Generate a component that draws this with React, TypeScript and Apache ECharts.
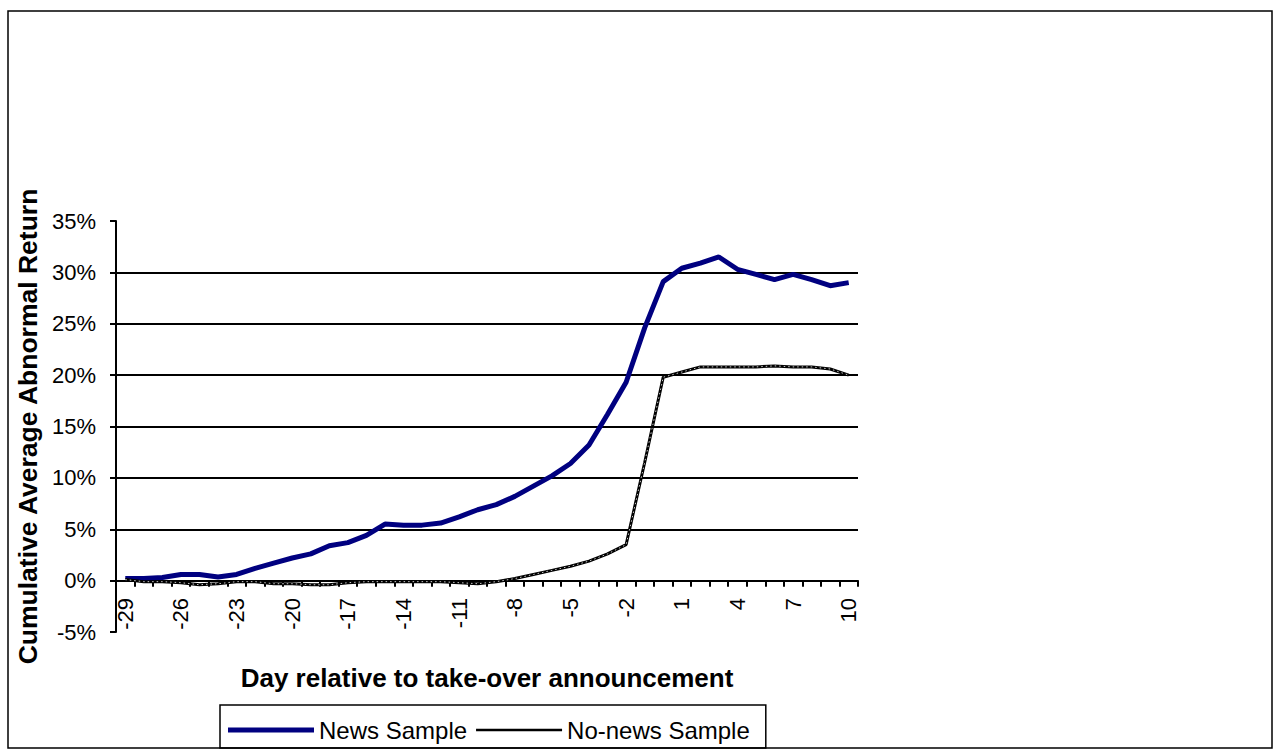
import React, { useEffect, useRef } from "react";
import * as echarts from "echarts";

const days: string[] = [
  "-29", "-28", "-27", "-26", "-25", "-24", "-23", "-22", "-21", "-20",
  "-19", "-18", "-17", "-16", "-15", "-14", "-13", "-12", "-11", "-10",
  "-9", "-8", "-7", "-6", "-5", "-4", "-3", "-2", "-1", "0",
  "1", "2", "3", "4", "5", "6", "7", "8", "9", "10",
];

// Cumulative average abnormal return, in percent
const newsSample: number[] = [
  0.2, 0.2, 0.3, 0.6, 0.6, 0.35, 0.6, 1.2, 1.7, 2.2,
  2.6, 3.4, 3.7, 4.4, 5.5, 5.4, 5.4, 5.6, 6.2, 6.9,
  7.4, 8.2, 9.2, 10.2, 11.4, 13.2, 16.2, 19.3, 24.6, 29.1,
  30.4, 30.9, 31.5, 30.3, 29.8, 29.3, 29.8, 29.3, 28.7, 29.0,
];

const noNewsSample: number[] = [
  0.1, -0.1, -0.1, -0.2, -0.4, -0.3, -0.1, -0.1, -0.3, -0.3,
  -0.4, -0.4, -0.2, -0.1, -0.1, -0.1, -0.1, -0.1, -0.2, -0.3,
  -0.1, 0.2, 0.6, 1.0, 1.4, 1.9, 2.6, 3.5, 11.5, 19.8,
  20.3, 20.8, 20.8, 20.8, 20.8, 20.9, 20.8, 20.8, 20.6, 20.0,
];

const seriesNames: string[] = ["News Sample", "No-news Sample"];
const xTitle = "Day relative to take-over announcement";
const yTitle = "Cumulative Average Abnormal Return";

const FONT = "Liberation Sans";

export default function App() {
  const ref = useRef<HTMLDivElement>(null);

  useEffect(() => {
    if (!ref.current) return;
    const chart = echarts.init(ref.current, undefined, { renderer: "svg" });
    const axisLine = { color: "#000", width: 2 };
    chart.setOption({
      animation: false,
      backgroundColor: "#fff",
      grid: { left: 116, right: 424, top: 221, bottom: 120, containLabel: false },
      legend: {
        data: [
          { name: seriesNames[0], icon: "rect", itemStyle: { color: "#000080", borderWidth: 0 } },
          {
            name: seriesNames[1],
            icon: "path://M0,0L86,0L0,0ZM0,1.2H86V3.8H0ZM0,5L86,5L0,5Z",
            itemStyle: { color: "#000", borderWidth: 0 },
          },
        ],
        left: 220,
        top: 705,
        orient: "horizontal",
        itemWidth: 86,
        itemHeight: 5,
        itemGap: 9,
        padding: [13, 16, 6, 8],
        borderColor: "#000",
        borderWidth: 1.5,
        borderRadius: 0,
        textStyle: { fontFamily: FONT, fontSize: 24, color: "#000" },
      },
      xAxis: {
        type: "category",
        data: days,
        boundaryGap: true,
        name: xTitle,
        nameLocation: "middle",
        nameGap: 33,
        nameTextStyle: { fontFamily: FONT, fontSize: 26, fontWeight: "bold", color: "#000" },
        axisLine: { show: true, onZero: true, lineStyle: axisLine },
        axisTick: { show: true, interval: 0, length: 6, lineStyle: axisLine },
        axisLabel: {
          interval: 2,
          rotate: 90,
          margin: -34,
          fontFamily: FONT,
          fontSize: 22,
          color: "#000",
        },
        splitLine: { show: false },
      },
      yAxis: {
        type: "value",
        min: -5,
        max: 35,
        interval: 5,
        name: yTitle,
        nameLocation: "middle",
        nameGap: 73,
        nameTextStyle: { fontFamily: FONT, fontSize: 26.5, fontWeight: "bold", color: "#000" },
        axisLine: { show: true, lineStyle: axisLine },
        axisTick: { show: true, length: 6, lineStyle: axisLine },
        axisLabel: {
          formatter: "{value}%",
          margin: 20,
          fontFamily: FONT,
          fontSize: 22,
          color: "#000",
        },
        splitLine: {
          show: true,
          showMinLine: false,
          showMaxLine: false,
          lineStyle: { color: "#000", width: 2 },
        },
      },
      series: [
        {
          name: seriesNames[0],
          type: "line",
          data: newsSample,
          symbol: "none",
          lineStyle: { color: "#000080", width: 5 },
          itemStyle: { color: "#000080" },
          z: 3,
        },
        {
          name: seriesNames[1],
          type: "line",
          data: noNewsSample,
          symbol: "none",
          lineStyle: { color: "#000", width: 3 },
          itemStyle: { color: "#000" },
          z: 4,
        },
        {
          name: "_overlay",
          type: "line",
          data: noNewsSample,
          symbol: "none",
          silent: true,
          lineStyle: { color: "#fff", width: 0.8, type: [1.5, 3] },
          z: 5,
        },
      ],
      graphic: [
        {
          type: "rect",
          shape: { x: 8, y: 11, width: 1264, height: 737 },
          style: { fill: "none", stroke: "#000", lineWidth: 1.5 },
          z: 100,
          silent: true,
        },
      ],
    });
    return () => chart.dispose();
  }, []);

  return (
    <div
      ref={ref}
      style={{ position: "fixed", left: 0, top: 0, width: 1282, height: 752, background: "#fff" }}
    />
  );
}
